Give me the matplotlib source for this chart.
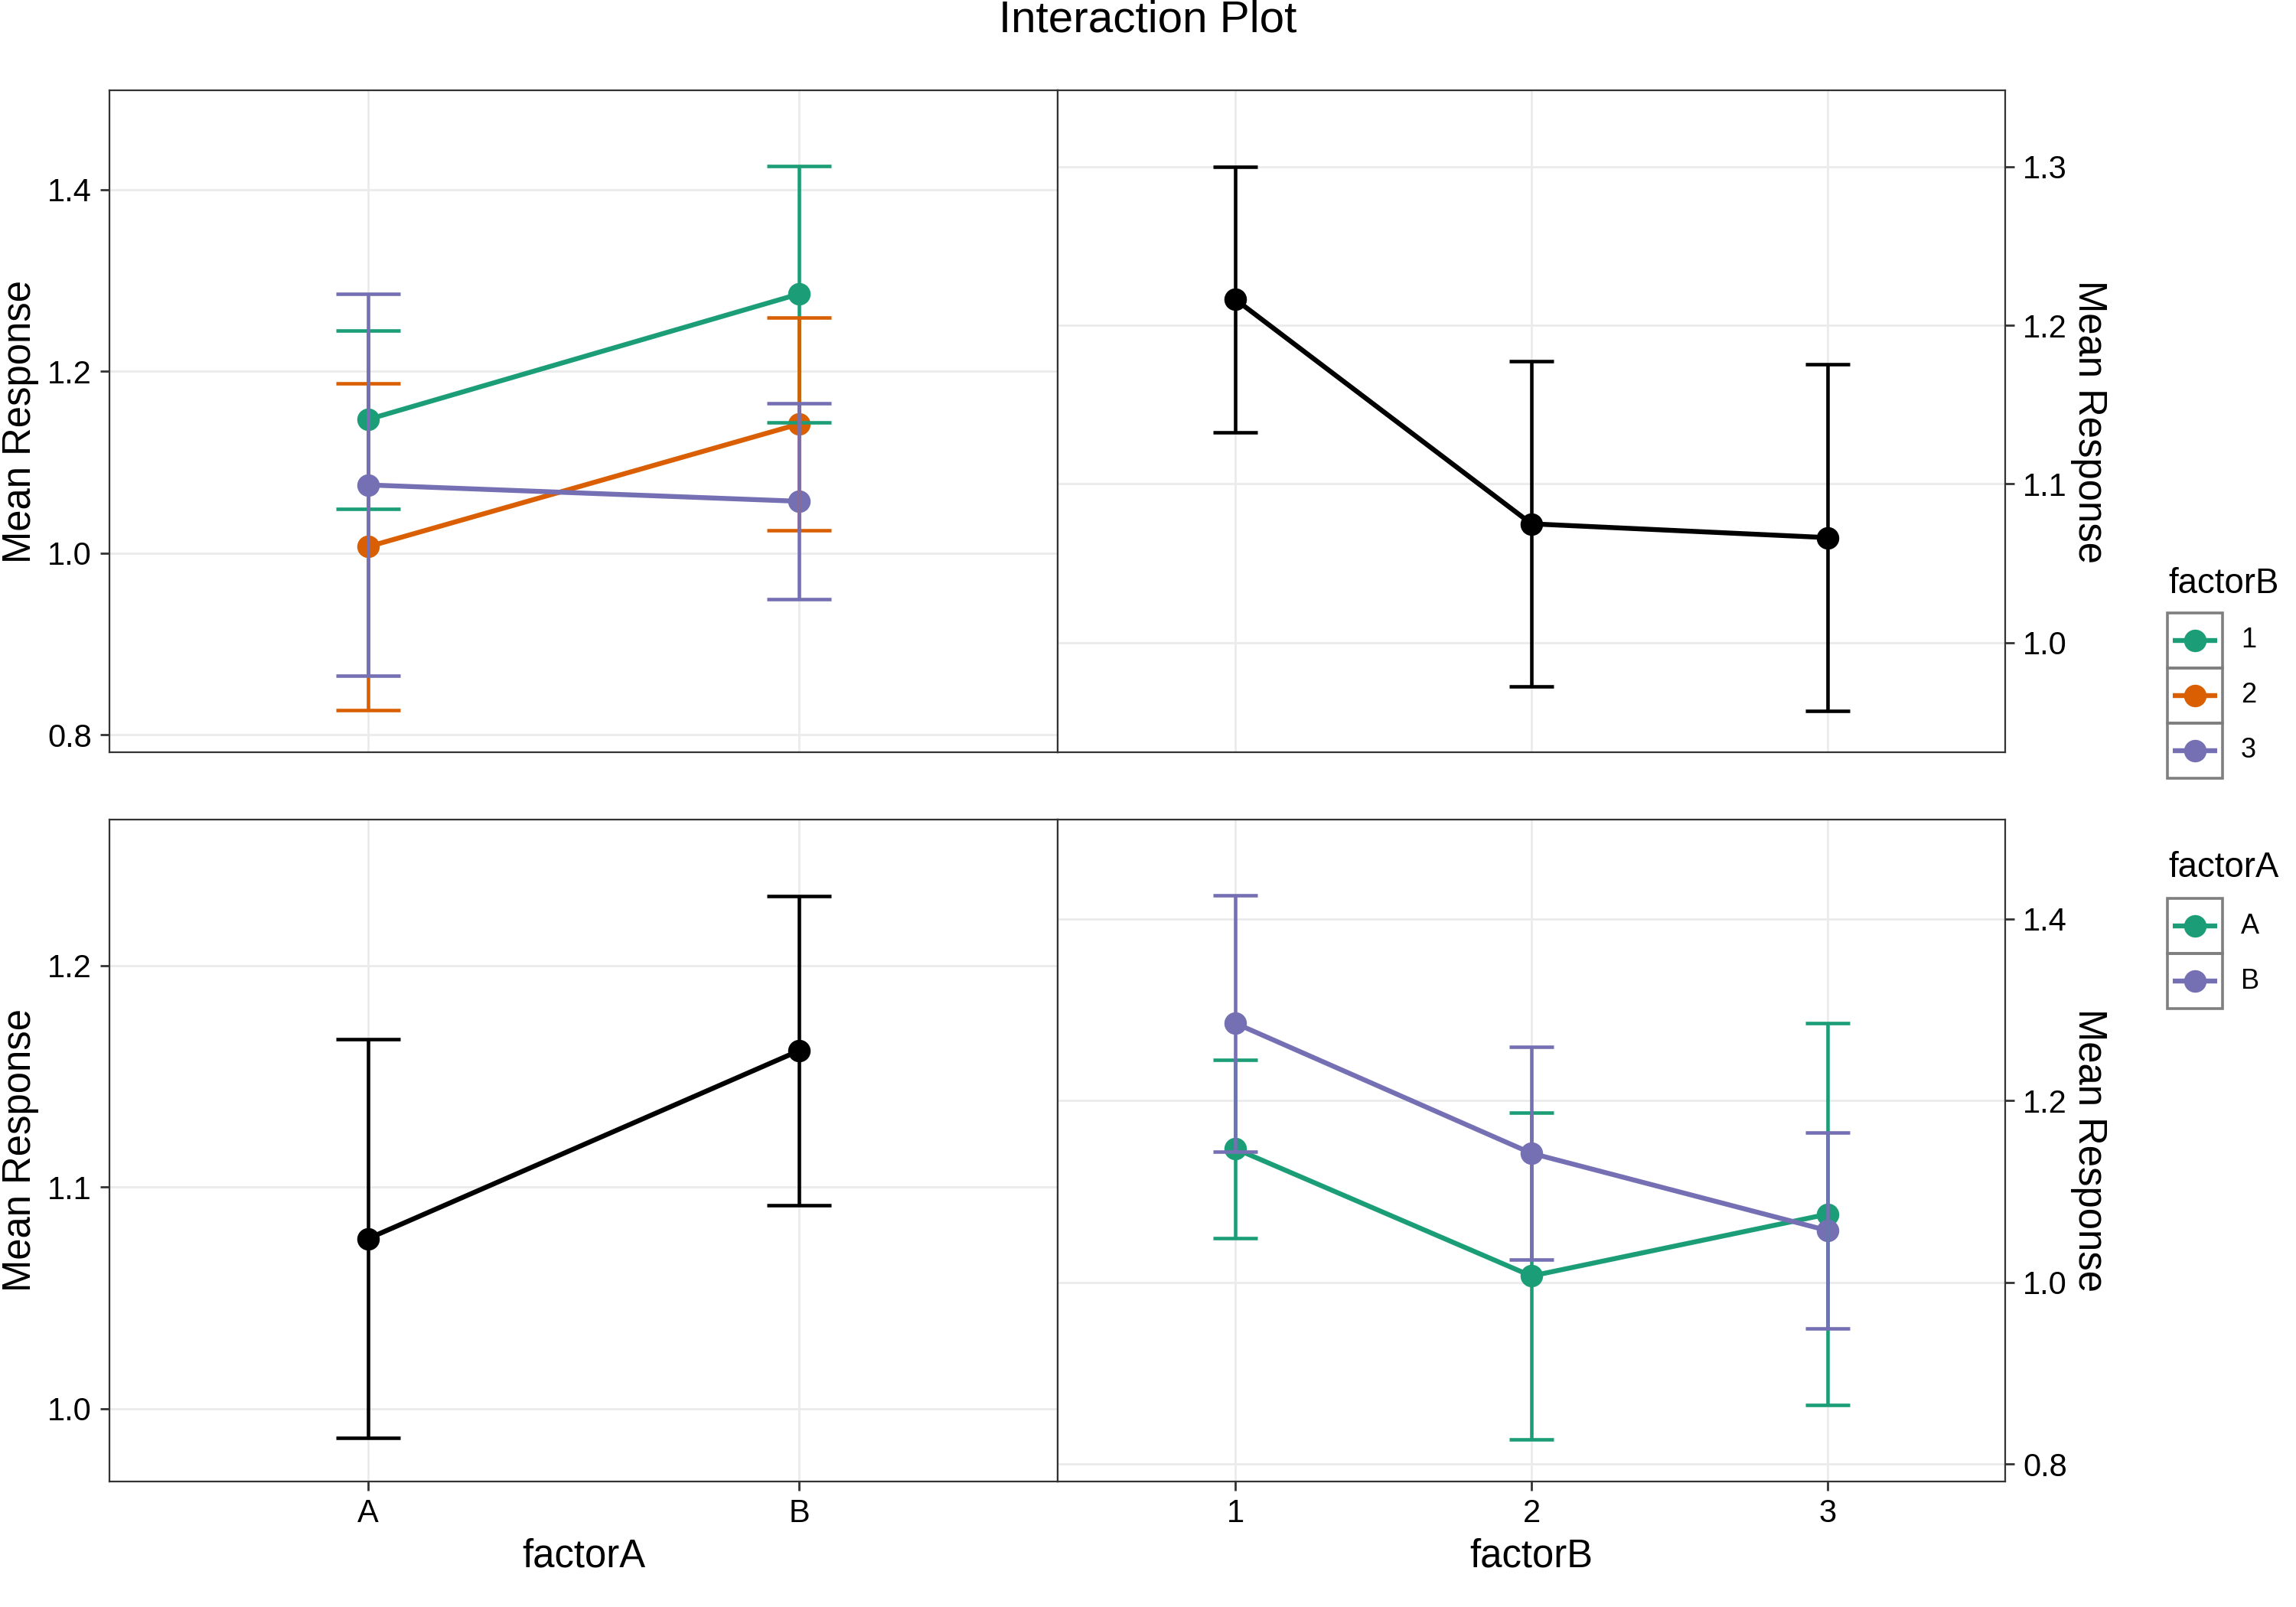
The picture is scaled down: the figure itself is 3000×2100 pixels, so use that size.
import numpy as np
import matplotlib
matplotlib.use("Agg")
import matplotlib.pyplot as plt
from matplotlib.patches import Rectangle
from matplotlib.lines import Line2D
from matplotlib.ticker import MultipleLocator, FormatStrFormatter

plt.rcParams['font.family'] = ['Liberation Sans', 'DejaVu Sans']

# ---------------- data ----------------
factorA_levels = ['A', 'B']
factorB_levels = ['1', '2', '3']

# cell means: rows = factorA level, columns = factorB level
cell_mean_A = [1.147, 1.007, 1.075]
cell_mean_B = [1.285, 1.142, 1.057]
cell_err_A = [0.098, 0.180, 0.210]
cell_err_B = [0.141, 0.117, 0.108]

# main effects
mainA_mean = [1.0767, 1.1616]
mainA_err = [0.0900, 0.0699]
mainB_mean = [1.2163, 1.0749, 1.0662]
mainB_err = [0.0836, 0.1026, 0.1093]

colors_B = ['#1B9E77', '#D95F02', '#7570B3']
colors_A = ['#1B9E77', '#7570B3']

# ---------------- figure ----------------
W, H = 3000, 2100
DPI = 200
fig = plt.figure(figsize=(W / DPI, H / DPI), dpi=DPI)


def px_axes(x0, y0, x1, y1):
    return fig.add_axes([x0 / W, 1 - y1 / H, (x1 - x0) / W, (y1 - y0) / H])


LX0, MID, RX1 = 143, 1382, 2620
TY0, TY1 = 118, 983
BY0, BY1 = 1071, 1936

ax_tl = px_axes(LX0, TY0, MID, TY1)
ax_tr = px_axes(MID, TY0, RX1, TY1)
ax_bl = px_axes(LX0, BY0, MID, BY1)
ax_br = px_axes(MID, BY0, RX1, BY1)

LW_LINE = 2.3
LW_ERR = 1.65
MS = 10.6
CAP = 0.075
TICK_FS = 15
TITLE_FS = 18.3


def draw_groups(ax, xlabels, means, errs, colors):
    x = np.arange(1, len(xlabels) + 1)
    for m, c in zip(means, colors):
        ax.plot(x, m, color=c, lw=LW_LINE, zorder=2, solid_capstyle='butt')
        ax.plot(x, m, 'o', ms=MS, color=c, mec=c, mew=0, zorder=3)
    for m, e, c in zip(means, errs, colors):
        m = np.asarray(m)
        e = np.asarray(e)
        ax.vlines(x, m - e, m + e, color=c, lw=LW_ERR, zorder=4)
        ax.hlines(m + e, x - CAP, x + CAP, color=c, lw=LW_ERR, zorder=4)
        ax.hlines(m - e, x - CAP, x + CAP, color=c, lw=LW_ERR, zorder=4)
    ax.set_xlim(0.4, len(xlabels) + 0.6)
    ax.set_xticks(x)
    ax.set_xticklabels(xlabels)


def style(ax, side, show_x, step, ylim, xlabel=None):
    ax.set_ylim(*ylim)
    ax.yaxis.set_major_locator(MultipleLocator(step))
    ax.yaxis.set_major_formatter(FormatStrFormatter('%.1f'))
    ax.grid(True, color='#EBEBEB', lw=1.0, zorder=0)
    ax.set_axisbelow(True)
    for s in ax.spines.values():
        s.set_color('#333333')
        s.set_linewidth(0.8)
    ax.tick_params(axis='both', length=4.4, width=1.0, color='#333333',
                   labelsize=TICK_FS, labelcolor='black', pad=4)
    if side == 'right':
        ax.yaxis.tick_right()
        ax.yaxis.set_label_position('right')
        ax.set_ylabel('Mean Response', fontsize=TITLE_FS, rotation=270,
                      labelpad=19)
    else:
        ax.set_ylabel('Mean Response', fontsize=TITLE_FS, labelpad=4)
    if show_x:
        ax.tick_params(axis='x', pad=3.5)
        ax.set_xlabel(xlabel, fontsize=TITLE_FS, labelpad=4)
    else:
        ax.tick_params(axis='x', length=0, labelbottom=False)


# top-left: x = factorA, lines = factorB
draw_groups(ax_tl, factorA_levels,
            [[cell_mean_A[j], cell_mean_B[j]] for j in range(3)],
            [[cell_err_A[j], cell_err_B[j]] for j in range(3)],
            colors_B)
style(ax_tl, 'left', False, 0.2, (0.781, 1.509))

# top-right: main effect of factorB
draw_groups(ax_tr, factorB_levels, [mainB_mean], [mainB_err], ['black'])
style(ax_tr, 'right', False, 0.1, (0.931, 1.348))

# bottom-left: main effect of factorA
draw_groups(ax_bl, factorA_levels, [mainA_mean], [mainA_err], ['black'])
style(ax_bl, 'left', True, 0.1, (0.967, 1.266), 'factorA')

# bottom-right: x = factorB, lines = factorA
draw_groups(ax_br, factorB_levels, [cell_mean_A, cell_mean_B],
            [cell_err_A, cell_err_B], colors_A)
style(ax_br, 'right', True, 0.2, (0.781, 1.509), 'factorB')

fig.text(0.5, 1 - 42 / H, 'Interaction Plot', ha='center', va='baseline',
         fontsize=21)

# ---------------- legends ----------------
lg = fig.add_axes([0, 0, 1, 1])
lg.set_xlim(0, W)
lg.set_ylim(H, 0)
lg.axis('off')


def draw_legend(title, labels, colors, title_base, top):
    lg.text(2833, title_base, title, fontsize=16.4, ha='left', va='baseline')
    kx, kw, kh = 2832, 72, 72
    for i, (lab, c) in enumerate(zip(labels, colors)):
        y0 = top + i * kh
        lg.add_patch(Rectangle((kx, y0), kw, kh, fill=False,
                               ec='#7F7F7F', lw=1.3))
        cy = y0 + kh / 2
        lg.add_line(Line2D([kx + 7, kx + kw - 7], [cy, cy], color=c,
                           lw=LW_LINE, solid_capstyle='butt'))
        lg.plot([kx + kw / 2], [cy], 'o', ms=MS, color=c, mew=0)
        lg.text(2928, cy, lab, fontsize=13, ha='left', va='center')


draw_legend('factorB', factorB_levels, colors_B, 775, 801)
draw_legend('factorA', factorA_levels, colors_A, 1146, 1174)

fig.savefig('out.png', dpi=DPI)
